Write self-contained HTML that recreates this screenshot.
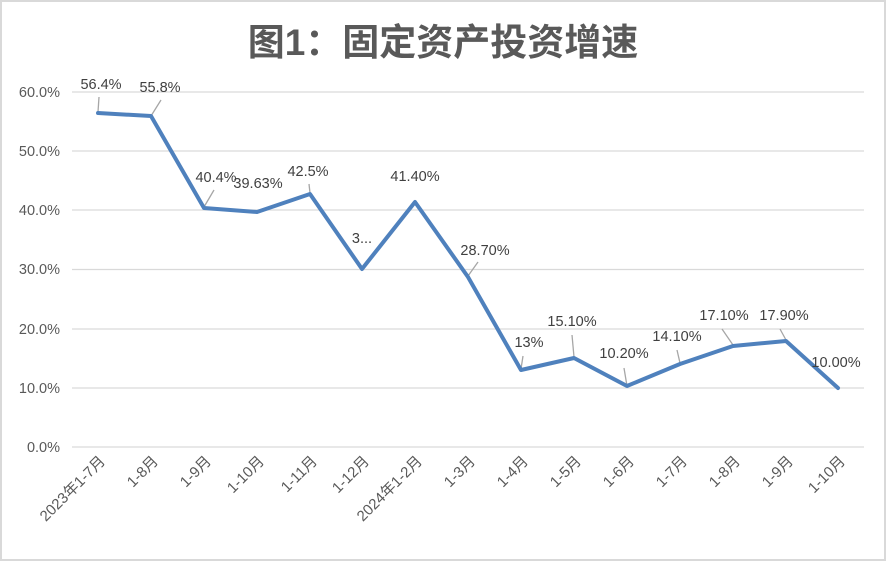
<!DOCTYPE html>
<html><head><meta charset="utf-8"><style>
html,body{margin:0;padding:0;background:#fff}
svg{display:block}
</style></head><body>
<svg width="886" height="562" xmlns="http://www.w3.org/2000/svg" font-family="Liberation Sans, Noto Sans CJK SC, sans-serif">
<rect x="1" y="1" width="884" height="559" fill="#fff" stroke="#d9d9d9" stroke-width="2"/>
<text x="443" y="55" text-anchor="middle" font-size="37" font-weight="bold" fill="#595959" font-family="Liberation Sans, Noto Sans CJK SC, sans-serif">图1：固定资产投资增速</text>
<g stroke="#d9d9d9" stroke-width="1.3">
<line x1="72" x2="864" y1="92" y2="92"/><line x1="72" x2="864" y1="151" y2="151"/>
<line x1="72" x2="864" y1="210" y2="210"/><line x1="72" x2="864" y1="269.5" y2="269.5"/>
<line x1="72" x2="864" y1="329" y2="329"/><line x1="72" x2="864" y1="388" y2="388"/>
<line x1="72" x2="864" y1="447" y2="447"/>
</g>
<g font-size="14.5" fill="#595959" text-anchor="end">
<text x="60" y="97">60.0%</text><text x="60" y="156">50.0%</text><text x="60" y="215">40.0%</text>
<text x="60" y="274">30.0%</text><text x="60" y="334">20.0%</text><text x="60" y="393">10.0%</text>
<text x="60" y="452">0.0%</text>
</g>
<g stroke="#a6a6a6" stroke-width="1.3">
<line x1="99" y1="97" x2="98" y2="112"/><line x1="161" y1="100" x2="151" y2="116"/>
<line x1="214" y1="190" x2="204" y2="207"/><line x1="309" y1="184" x2="310" y2="193"/>
<line x1="478" y1="262" x2="468" y2="276"/><line x1="523" y1="356" x2="521" y2="369"/>
<line x1="572" y1="335" x2="574" y2="357"/><line x1="624" y1="368" x2="627" y2="386"/>
<line x1="677" y1="350" x2="680" y2="363"/><line x1="722" y1="329" x2="733" y2="345"/>
<line x1="780" y1="329" x2="786" y2="340"/>
</g>
<polyline fill="none" stroke="#4f81bd" stroke-width="4" stroke-linejoin="round" stroke-linecap="round"
points="98,113 151,116 204,208 257,212 310,194 362,269 415,202 468,277 521,370 574,358 627,386 680,364 733,346 786,341 838,388"/>
<g font-size="14.5" fill="#404040" text-anchor="middle">
<text x="101" y="89">56.4%</text><text x="160" y="92">55.8%</text><text x="216" y="182">40.4%</text>
<text x="258" y="188">39.63%</text><text x="308" y="176">42.5%</text><text x="362" y="243">3...</text>
<text x="415" y="181">41.40%</text><text x="485" y="255">28.70%</text><text x="529" y="347">13%</text>
<text x="572" y="326">15.10%</text><text x="624" y="358">10.20%</text><text x="677" y="341">14.10%</text>
<text x="724" y="320">17.10%</text><text x="784" y="320">17.90%</text><text x="836" y="367">10.00%</text>
</g>
<g font-size="15" fill="#595959" text-anchor="end">
<text transform="translate(106,462) rotate(-45)">2023年1-7月</text>
<text transform="translate(159,462) rotate(-45)">1-8月</text>
<text transform="translate(212,462) rotate(-45)">1-9月</text>
<text transform="translate(265,462) rotate(-45)">1-10月</text>
<text transform="translate(318,462) rotate(-45)">1-11月</text>
<text transform="translate(370,462) rotate(-45)">1-12月</text>
<text transform="translate(423,462) rotate(-45)">2024年1-2月</text>
<text transform="translate(476,462) rotate(-45)">1-3月</text>
<text transform="translate(529,462) rotate(-45)">1-4月</text>
<text transform="translate(582,462) rotate(-45)">1-5月</text>
<text transform="translate(635,462) rotate(-45)">1-6月</text>
<text transform="translate(688,462) rotate(-45)">1-7月</text>
<text transform="translate(741,462) rotate(-45)">1-8月</text>
<text transform="translate(794,462) rotate(-45)">1-9月</text>
<text transform="translate(846,462) rotate(-45)">1-10月</text>
</g>
</svg>
</body></html>
